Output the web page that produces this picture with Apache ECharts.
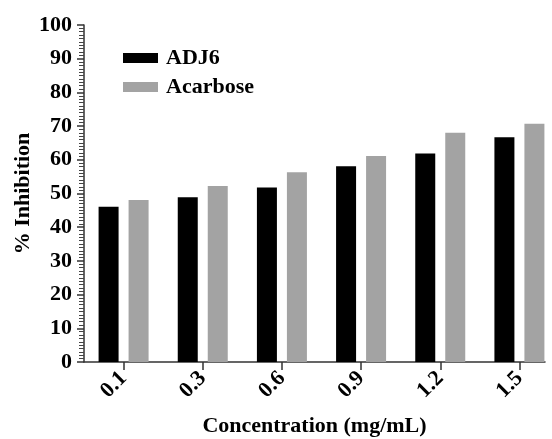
<!DOCTYPE html>
<html>
<head>
<meta charset="utf-8">
<script src="https://cdn.jsdelivr.net/npm/echarts@6/dist/echarts.min.js"></script>
<style>
  html, body { margin: 0; padding: 0; background: #fff; }
  #chart { width: 552px; height: 439px; }
</style>
</head>
<body>
<div id="chart"></div>
<script>
const categories = ['0.1', '0.3', '0.6', '0.9', '1.2', '1.5'];
const adj6 = [46.1, 48.9, 51.8, 58.1, 61.9, 66.7];
const acarbose = [48.1, 52.2, 56.3, 61.1, 68.0, 70.7];
const yTicks = [0, 100, 10]; // min, max, step

const font = "'Liberation Serif', 'Times New Roman', serif";
const ink = '#000';

const chart = echarts.init(document.getElementById('chart'));

chart.setOption({
  backgroundColor: '#fff',
  animation: false,
  textStyle: { fontFamily: font },
  legend: {
    orient: 'vertical',
    left: 118,
    top: 42,
    icon: 'rect',
    itemWidth: 35,
    itemHeight: 10,
    itemGap: 7,
    textStyle: { fontFamily: font, fontWeight: 'bold', fontSize: 22, color: ink, lineHeight: 22, padding: [0, 0, 0, 3] },
    data: ['ADJ6', 'Acarbose'],
  },
  grid: [
    // bars: category bands run a little past the drawn axis line
    { left: 84, top: 25, height: 337, width: 475, outerBoundsMode: 'none' },
    // axis line only
    { left: 84, top: 25, height: 337, width: 461, outerBoundsMode: 'none' },
  ],
  xAxis: [
    {
      type: 'category',
      gridIndex: 0,
      data: categories,
      axisLine: { show: false },
      axisTick: { show: true, alignWithLabel: true, length: 8, lineStyle: { color: '#333', width: 1.5 } },
      axisLabel: { rotate: 45, margin: 13, fontFamily: font, fontWeight: 'bold', fontSize: 22, color: ink },
      splitLine: { show: false },
    },
    {
      type: 'value',
      gridIndex: 1,
      min: 0,
      max: 1,
      name: 'Concentration (mg/mL)',
      nameLocation: 'middle',
      nameGap: 53,
      nameMoveOverlap: false,
      nameTextStyle: { fontFamily: font, fontWeight: 'bold', fontSize: 22, color: ink },
      axisLine: { show: true, lineStyle: { color: '#333', width: 1.5 } },
      axisTick: { show: false },
      axisLabel: { show: false },
      splitLine: { show: false },
    },
  ],
  yAxis: [
    {
      type: 'value',
      gridIndex: 0,
      min: yTicks[0],
      max: yTicks[1],
      interval: yTicks[2],
      name: '% Inhibition',
      nameLocation: 'middle',
      nameGap: 50,
      nameMoveOverlap: false,
      nameTextStyle: { fontFamily: font, fontWeight: 'bold', fontSize: 22, color: ink },
      axisLine: { show: true, lineStyle: { color: '#333', width: 1.5 } },
      axisTick: { show: true, length: 7, lineStyle: { color: '#333', width: 1.5 } },
      minorTick: { show: true, splitNumber: 10, length: 5, lineStyle: { color: '#444', width: 1 } },
      axisLabel: { margin: 12, fontFamily: font, fontWeight: 'bold', fontSize: 22, color: ink },
      splitLine: { show: false },
    },
    {
      type: 'value',
      gridIndex: 1,
      show: false,
    },
  ],
  series: [
    {
      name: 'ADJ6',
      type: 'bar',
      xAxisIndex: 0,
      yAxisIndex: 0,
      data: adj6,
      barWidth: 20,
      barGap: '50%',
      itemStyle: { color: '#000' },
    },
    {
      name: 'Acarbose',
      type: 'bar',
      xAxisIndex: 0,
      yAxisIndex: 0,
      data: acarbose,
      barWidth: 20,
      barGap: '50%',
      itemStyle: { color: '#a3a3a3' },
    },
  ],
});
</script>
</body>
</html>
